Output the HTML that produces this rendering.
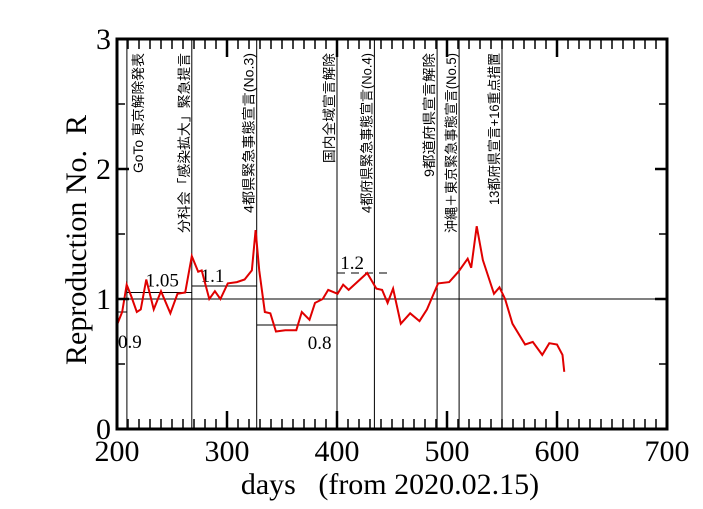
<!DOCTYPE html>
<html><head><meta charset="utf-8"><style>
html,body{margin:0;padding:0;background:#fff;}
svg{display:block;}
text{font-family:"Liberation Serif","Noto Serif CJK SC",serif;}
.jp{font-family:"Liberation Sans","Noto Sans CJK JP",sans-serif;font-size:13.5px;}
.pre{white-space:pre;}
</style></head><body>
<svg id="chart" width="703" height="509" xmlns="http://www.w3.org/2000/svg"></svg>
<script>
const days = [200.4,204.7,208.8,213,218,221.6,226.6,233.4,240,248.5,255,262,268,273.8,277,283.9,289,294,300.7,309,316,322.6,326,329.3,334.4,339.4,344.5,353,363,368,375,380,387,392,400.5,405.6,410.6,427.4,435.8,441,446,451,458,466.5,475,481.8,491.9,502,510.4,518.8,522,527,532.6,542.7,547.7,552.8,559.5,571,578,586.6,593,600,605,606.6];
const rValues = [0.81,0.90,1.11,1.02,0.90,0.92,1.15,0.92,1.06,0.89,1.04,1.05,1.33,1.21,1.22,1.00,1.06,1.00,1.12,1.13,1.15,1.22,1.53,1.22,0.90,0.89,0.75,0.76,0.76,0.90,0.84,0.97,1.00,1.07,1.04,1.11,1.07,1.20,1.08,1.07,0.97,1.08,0.81,0.89,0.83,0.92,1.12,1.13,1.21,1.31,1.24,1.56,1.30,1.04,1.09,1.00,0.81,0.65,0.67,0.57,0.66,0.65,0.57,0.44];
const xTicks = [200,300,400,500,600,700];
const yTicks = [0,1,2,3];
const eventDays = [209,268,327,400,434,491,511,550];
const eventLabels = ["GoTo 東京解除発表","分科会「感染拡大」緊急提言","4都県緊急事態宣言(No.3)","国内全域宣言解除","4都府県緊急事態宣言(No.4)","9都道府県宣言解除","沖縄＋東京緊急事態宣言(No.5)","13都府県宣言+16重点措置"];
const eventSide = [1,-1,-1,-1,-1,-1,-1,-1];
const eventLen = [120,180,160,110,160,124,180,152];
const levelStart = [200,209,268,327,400];
const levelEnd = [209,268,327,400,449];
const levelValue = [0.9,1.05,1.1,0.8,1.2];
const levelLabels = ["0.9","1.05","1.1","0.8","1.2"];

const L=117,R=667,T=39,B=429;
const X=d=>L+(d-200)*(R-L)/500;
const Y=v=>B-v*(B-T)/3;
const svg=document.getElementById('chart');
const NS="http://www.w3.org/2000/svg";
function mk(tag,attrs,name){const e=document.createElementNS(NS,tag);for(const k in attrs)e.setAttribute(k,attrs[k]);


svg.appendChild(e);return e;}

mk('line',{x1:L,x2:R,y1:Y(1),y2:Y(1),stroke:'#000','stroke-width':1},'reference-line-1');
eventDays.forEach((d,i)=>{
  mk('line',{x1:X(d),x2:X(d),y1:T,y2:B,stroke:'#000','stroke-width':1},'event-line');
  const bx = eventSide[i]>0 ? X(d)+16 : X(d)-3;
  const t=mk('text',{x:bx,y:53,transform:`rotate(-90 ${bx} 53)`,'text-anchor':'end',class:'jp',textLength:eventLen[i],lengthAdjust:'spacingAndGlyphs'},'event-label');
  t.textContent=eventLabels[i];
});
levelValue.forEach((v,i)=>{
  const a={x1:X(levelStart[i]),x2:X(levelEnd[i]),y1:Y(v),y2:Y(v),stroke:'#000','stroke-width':1};
  if(i===4)a['stroke-dasharray']='8,6';
  mk('line',a,'level-line');
});
const lblPos=[[X(200)+1,Y(0.9)+36,'start'],[X(226),Y(1.05)-6,'start'],[X(276),Y(1.1)-4,'start'],[X(395),Y(0.8)+24,'end'],[X(403),Y(1.2)-4,'start']];
levelLabels.forEach((s,i)=>{const t=mk('text',{x:lblPos[i][0],y:lblPos[i][1],'font-size':19,'text-anchor':lblPos[i][2]},'level-label');t.textContent=s;});
mk('polyline',{points:days.map((d,i)=>X(d)+','+Y(rValues[i])).join(' '),fill:'none',stroke:'#e00000','stroke-width':2},'r-series-line');
mk('rect',{x:L,y:T,width:R-L,height:B-T,fill:'none',stroke:'#000','stroke-width':3},'plot-frame');
for(let d=210;d<700;d+=10){ if(d%100===0)continue;
  mk('line',{x1:X(d),x2:X(d),y1:B,y2:B-10,stroke:'#000','stroke-width':1.5},'x-minor-tick');
  mk('line',{x1:X(d),x2:X(d),y1:T,y2:T+10,stroke:'#000','stroke-width':1.5},'x-minor-tick');}
xTicks.forEach(d=>{
  mk('line',{x1:X(d),x2:X(d),y1:B,y2:B-18,stroke:'#000','stroke-width':2.5},'x-major-tick');
  mk('line',{x1:X(d),x2:X(d),y1:T,y2:T+18,stroke:'#000','stroke-width':2.5},'x-major-tick');
  const t=mk('text',{x:X(d),y:B+32,'font-size':30,'text-anchor':'middle'},'x-tick-label');t.textContent=d;
});
yTicks.forEach(v=>{
  mk('line',{x1:L,x2:L+12,y1:Y(v),y2:Y(v),stroke:'#000','stroke-width':2.5},'y-major-tick');
  mk('line',{x1:R,x2:R-12,y1:Y(v),y2:Y(v),stroke:'#000','stroke-width':2.5},'y-major-tick');
  const t=mk('text',{x:L-6,y:Y(v)+10,'font-size':30,'text-anchor':'end'},'y-tick-label');t.textContent=v;
});
[0.5,1.5,2.5].forEach(v=>{
  mk('line',{x1:L,x2:L+8,y1:Y(v),y2:Y(v),stroke:'#000','stroke-width':1.5},'y-minor-tick');
  mk('line',{x1:R,x2:R-8,y1:Y(v),y2:Y(v),stroke:'#000','stroke-width':1.5},'y-minor-tick');
});
const xt=mk('text',{x:390,y:494,'font-size':30,'text-anchor':'middle',class:'pre'},'x-axis-title');xt.textContent='days   (from 2020.02.15)';
const yt=mk('text',{x:86,y:240,'font-size':30,'text-anchor':'middle',class:'pre',transform:'rotate(-90 86 240)'},'y-axis-title');yt.textContent='Reproduction No.  R';
</script>
</body></html>
